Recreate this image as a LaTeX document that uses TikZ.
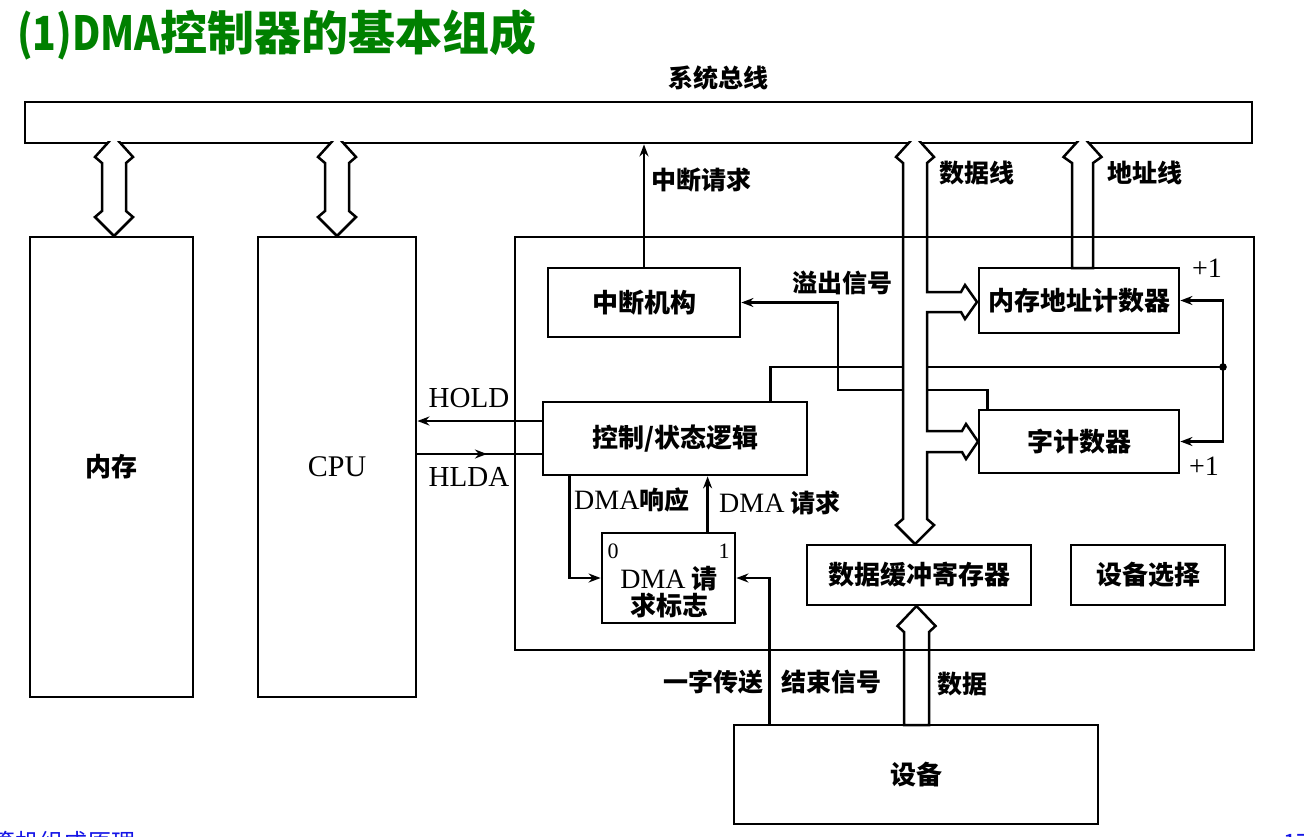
\documentclass[tikz,border=0pt]{standalone}
\usepackage{fontspec}
\usepackage{graphicx}
\setmainfont{Liberation Serif}
\newfontfamily\zh{Noto Sans CJK SC}
\usetikzlibrary{arrows.meta,decorations.markings}
\definecolor{titlegreen}{RGB}{0,128,0}
\definecolor{footblue}{RGB}{20,20,230}

\begin{document}
\begin{tikzpicture}[x=1pt,y=-1pt,
  box/.style={draw, line width=2.8pt, inner sep=0pt,
    font=\fontsize{26}{30}\selectfont\zh\bfseries},
  wire/.style={line width=2.5pt},
  sig/.style={wire, -{Stealth[length=12pt,width=9pt]}},
  hollow/.style={draw, fill=white, line width=2.5pt, line join=miter},
  lab/.style={inner sep=0pt, font=\fontsize{25}{28}\selectfont\zh\bfseries},
  lat/.style={inner sep=0pt, font=\fontsize{29}{30}\selectfont\rmfamily},
  foot/.style={inner sep=0pt, text=footblue, font=\fontsize{24}{26}\selectfont\zh},
]
\useasboundingbox (0,0) rectangle (1304,836);

% heading
\node[anchor=base west, inner sep=0pt, text=titlegreen,
      font=\fontsize{47}{50}\selectfont\zh\bfseries] (title) at (17,50)
      {\scalebox{0.83}[1]{(1)DMA}控制器的基本组成};

% system bus
\node[draw, line width=2.8pt, inner sep=0pt, minimum width=1227, minimum height=41] (bus) at (638.5,122.5) {};
\node[lab] (sysbus) at (718,78) {系统总线};

% main blocks
\node[box, minimum width=163, minimum height=460] (mem) at (111.5,467) {内存};
\node[box, minimum width=158, minimum height=460, font=\fontsize{30}{32}\selectfont\rmfamily] (cpu) at (337,467) {CPU};
\node[box, minimum width=192, minimum height=69] (zdjg) at (644,302.5) {中断机构};
\node[box, minimum width=200, minimum height=65] (addr) at (1079,300.5) {内存地址计数器};
\node[box, minimum width=200, minimum height=63] (wc) at (1079,441.5) {字计数器};
\node[box, minimum width=264, minimum height=73] (ctl) at (675,438.5) {控制/状态逻辑};
\node[box, minimum width=133, minimum height=90] (flag) at (668.5,578) {};
\node[lab, align=center, font=\fontsize{26}{27}\selectfont\zh\bfseries] (flagtxt) at (669,592)
      {{\fontsize{28}{28}\selectfont\rmfamily\mdseries DMA} 请\\求标志};
\node[inner sep=0pt, font=\fontsize{22}{22}\selectfont\rmfamily] (flag0) at (613,551) {0};
\node[inner sep=0pt, font=\fontsize{22}{22}\selectfont\rmfamily] (flag1) at (724,551) {1};
\node[box, minimum width=224, minimum height=60] (buf) at (919,575) {数据缓冲寄存器};
\node[box, minimum width=154, minimum height=60] (sel) at (1148,575) {设备选择};
\node[box, minimum width=364, minimum height=99] (dev) at (916,774.5) {设备};

% +1 marks of the counters
\node[inner sep=0pt, font=\fontsize{28}{28}\selectfont\rmfamily] (inc1) at (1207,268) {+1};
\node[inner sep=0pt, font=\fontsize{28}{28}\selectfont\rmfamily] (inc2) at (1204,466) {+1};

% control signals
\draw[sig] (zdjg.north) -- (zdjg.north |- bus.south);
\draw[sig] ([xshift=10]wc.north west) |- (838,390) |- (zdjg.east);
\coordinate (incjoin) at (1223,367);
\draw[wire] ([xshift=229]ctl.north west) |- (incjoin);
\draw[sig] (incjoin) |- (addr.east);
\draw[sig] (incjoin) |- (wc.east);
\fill (incjoin) circle (3.8);
\draw[sig] (ctl.west |- 0,421) -- (cpu.east |- 0,421);
\draw[wire, postaction={decorate}, decoration={markings,
      mark=at position 0.56 with {\arrow{Stealth[length=12pt,width=9pt]}}}]
      (cpu.east |- 0,454) -- (ctl.west |- 0,454);
\draw[sig] ([xshift=28]ctl.south west) |- (flag.west);
\draw[sig] ([xshift=107]flag.north west) -- ([xshift=107]flag.north west |- ctl.south);
\draw[sig] ([xshift=37]dev.north west) |- (flag.east);

% wide (double-line) buses, their upper heads opening into the system bus
\begin{scope}
  \clip (0,141.6) rectangle (1304,836);
  % memory
  \path[hollow] (114,136) -- (133,157) -- (126,163) -- (126,211) -- (133,217) -- (114,236)
    -- (95,217) -- (102,211) -- (102,163) -- (95,157) -- cycle;
  % CPU
  \path[hollow] (337,136) -- (356,157) -- (349,163) -- (349,211) -- (356,217) -- (337,236)
    -- (318,217) -- (325,211) -- (325,163) -- (318,157) -- cycle;
  % data lines, with branches to both counters
  \path[hollow] (915,136) -- (934,157) -- (927,163) -- (927,292) -- (961,292) -- (965,285)
    -- (977,302) -- (965,319) -- (961,312) -- (927,312) -- (927,431) -- (962,431)
    -- (966,424) -- (978,441.5) -- (966,459) -- (962,452) -- (927,452) -- (927,519)
    -- (934,525) -- (915,544) -- (896,525) -- (903,519) -- (903,163) -- (896,157) -- cycle;
  % address lines
  \path[hollow] (1082.5,136) -- (1101.5,157) -- (1093,163) -- (1093,268) -- (1072,268)
    -- (1072,163) -- (1063.5,157) -- cycle;
\end{scope}
% device data into the buffer register
\path[hollow] (916.5,606) -- (935.5,626) -- (929,632) -- (929,725) -- (904,725) -- (904,632)
  -- (897.5,626) -- cycle;

% DMA controller outline
\node[draw, line width=2.8pt, inner sep=0pt, minimum width=739, minimum height=413] (dma) at (884.5,443.5) {};

% labels
\node[lab, anchor=west] (lblint) at (651,180) {中断请求};
\node[lab, anchor=west] (lbldata) at (939,173) {数据线};
\node[lab, anchor=west] (lbladdr) at (1107,173) {地址线};
\node[lab, anchor=west] (lblovf) at (792,283) {溢出信号};
\node[lat] (lblhold) at (469,398) {HOLD};
\node[lat] (lblhlda) at (469,477) {HLDA};
\node[lab, anchor=west] (lblack) at (574,500) {{\fontsize{28}{28}\selectfont\rmfamily\mdseries DMA}响应};
\node[lab, anchor=west] (lblreq) at (719,503) {{\fontsize{28}{28}\selectfont\rmfamily\mdseries DMA} 请求};
\node[lab, anchor=east] (lbleot1) at (764,682) {一字传送};
\node[lab, anchor=west] (lbleot2) at (781,682) {结束信号};
\node[lab, anchor=west] (lbldat) at (937,684) {数据};

% footer, running off the lower edge
\node[foot, anchor=base west] (footer) at (-33,851) {计算机组成原理};
\node[foot, anchor=base west] (pageno) at (1283,851) {17};
\end{tikzpicture}
\end{document}
